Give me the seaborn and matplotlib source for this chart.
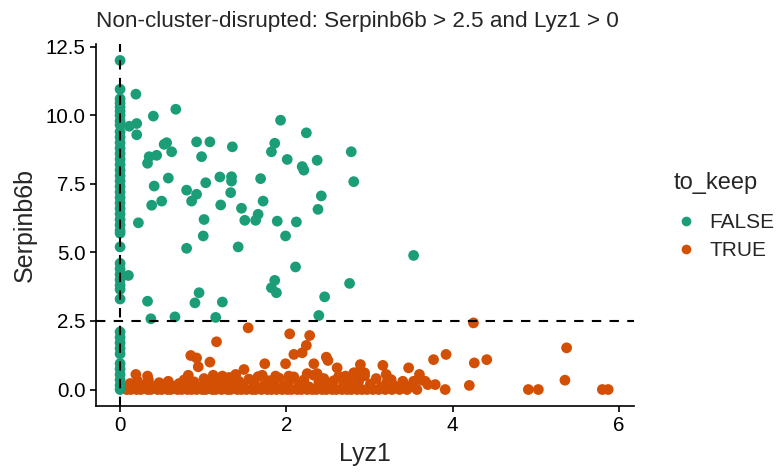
import matplotlib
matplotlib.use("Agg")
import matplotlib.pyplot as plt
import pandas as pd
import seaborn as sns

# ---- data -------------------------------------------------------------
# cells with Lyz1 == 0 (not kept)
false_zero_y = [12.0, 10.95, 10.6, 10.45, 10.3, 10.15, 10.0, 9.8, 9.65, 9.4,
                9.2, 9.0, 8.8, 8.6, 8.4, 8.2, 8.0, 7.8, 7.6, 7.4, 7.2, 7.0,
                6.8, 6.6, 6.4, 6.2, 6.0, 5.8, 5.7, 5.2, 4.6, 4.4, 4.2, 4.0,
                3.8, 3.65, 3.3, 2.1, 1.9, 1.7, 1.5, 1.3, 0.95, 0.75, 0.55,
                0.35, 0.15, 0.0]

# cells with Lyz1 > 0 and Serpinb6b > 2.5 (not kept)
false_x = [0.19, 0.40, 0.67, 0.11, 0.20, 0.20, 1.93, 2.24, 2.78, 2.81, 0.53,
           0.56, 0.92, 1.08, 1.35, 1.86, 1.82, 2.01, 2.37, 2.19, 2.21, 0.35,
           0.33, 0.44, 0.62, 0.98, 0.41, 0.58, 0.80, 0.92, 0.86, 1.03, 1.20,
           1.34, 1.34, 1.33, 1.69, 2.42, 0.38, 0.50, 1.21, 1.46, 1.72, 2.38,
           0.22, 1.50, 1.63, 1.66, 1.89, 2.12, 1.01, 1.00, 0.80, 1.42, 1.99,
           2.11, 0.10, 1.86, 1.82, 1.88, 2.76, 2.46, 0.95, 0.90, 1.23, 0.33,
           0.37, 0.66, 1.15, 2.39, 3.53]
false_y = [10.77, 9.97, 10.22, 9.60, 9.70, 9.29, 9.82, 9.36, 8.67, 7.58, 8.94,
           9.00, 9.03, 9.03, 8.85, 8.98, 8.67, 8.39, 8.36, 8.13, 8.00, 8.49,
           8.25, 8.54, 8.67, 8.49, 7.42, 7.71, 7.27, 7.12, 6.87, 7.54, 7.75,
           7.76, 7.60, 7.18, 7.69, 7.06, 6.72, 6.87, 6.73, 6.61, 6.87, 6.57,
           6.08, 6.17, 6.17, 6.39, 6.14, 6.11, 6.20, 5.60, 5.15, 5.20, 5.60,
           4.47, 4.16, 3.98, 3.71, 3.53, 3.87, 3.38, 3.53, 3.16, 3.19, 3.22,
           2.58, 2.65, 2.63, 2.70, 4.89]

# kept cells: Serpinb6b == 0
true_zero_x = [0.08, 0.13, 0.20, 0.25, 0.33, 0.37, 0.45, 0.50, 0.57, 0.61,
               0.69, 0.74, 0.81, 0.86, 0.92, 0.99, 1.03, 1.11, 1.15, 1.22,
               1.29, 1.33, 1.41, 1.46, 1.52, 1.59, 1.63, 1.70, 1.77, 1.82,
               1.88, 1.95, 2.01, 2.06, 2.13, 2.18, 2.25, 2.31, 2.36, 2.43,
               2.48, 2.55, 2.60, 2.67, 2.73, 2.78, 2.85, 2.91, 2.97, 3.04,
               3.11, 3.19, 3.27, 3.36, 3.45, 3.57, 3.91, 4.91, 5.03, 5.80,
               5.87]

# kept cells: Serpinb6b above zero
true_x = [0.12, 0.21, 0.27, 0.34, 0.40, 0.47, 0.53, 0.58, 0.65, 0.71, 0.77,
          0.83, 0.89, 0.95, 1.01, 1.07, 1.13, 1.18, 1.25, 1.31, 1.37, 1.43,
          1.48, 1.55, 1.61, 1.66, 1.73, 1.79, 1.85, 1.91, 1.97, 2.03, 2.09,
          2.15, 2.21, 2.27, 2.33, 2.39, 2.45, 2.51, 2.57, 2.63, 2.69, 2.75,
          2.81, 2.87, 2.94, 3.01, 3.08, 3.14, 3.21, 3.29, 3.40, 3.50, 3.62,
          3.70,
          1.16, 0.85, 0.92, 0.94, 1.08, 0.19, 0.33, 1.54, 2.04, 2.28, 2.24,
          2.09, 2.19, 2.48, 2.50, 1.74, 1.99, 2.33, 2.61, 2.89, 1.49, 1.39,
          4.25, 3.92, 3.77, 4.26, 4.41, 3.47, 3.16, 3.60, 3.79, 4.20, 5.37,
          5.35, 3.20, 3.26, 3.53, 3.67, 3.38, 2.84, 2.94, 0.82, 1.12, 1.23,
          1.71, 1.87, 2.03, 2.25, 2.37, 2.71, 2.81]
true_y = [0.22, 0.31, 0.14, 0.36, 0.11, 0.25, 0.18, 0.30, 0.12, 0.22, 0.35,
          0.15, 0.28, 0.10, 0.40, 0.20, 0.32, 0.12, 0.25, 0.44, 0.18, 0.30,
          0.10, 0.38, 0.22, 0.47, 0.15, 0.32, 0.20, 0.42, 0.12, 0.30, 0.46,
          0.18, 0.35, 0.10, 0.52, 0.25, 0.40, 0.15, 0.32, 0.48, 0.20, 0.38,
          0.12, 0.30, 0.50, 0.20, 0.40, 0.10, 0.28, 0.15, 0.30, 0.12, 0.35,
          0.18,
          1.74, 1.24, 1.15, 0.83, 1.00, 0.55, 0.49, 2.25, 2.03, 1.97, 1.61,
          1.28, 1.34, 1.18, 1.06, 0.94, 0.94, 0.94, 0.79, 0.91, 0.73, 0.55,
          2.43, 1.28, 1.09, 0.97, 1.09, 0.79, 0.88, 0.55, 0.18, 0.15, 1.52,
          0.34, 0.55, 0.36, 0.30, 0.30, 0.12, 0.61, 0.61, 0.52, 0.52, 0.49,
          0.52, 0.49, 0.49, 0.58, 0.58, 0.49, 0.61]

x_ticks = [0, 2, 4, 6]
y_ticks = [0.0, 2.5, 5.0, 7.5, 10.0, 12.5]
serpin_cut = 2.5
lyz_cut = 0

palette = {"FALSE": "#1B9E77", "TRUE": "#D34F04"}

# ---- assemble table ---------------------------------------------------
df = pd.concat([
    pd.DataFrame({"Lyz1": true_zero_x,
                  "Serpinb6b": [0.0] * len(true_zero_x), "to_keep": "TRUE"}),
    pd.DataFrame({"Lyz1": true_x, "Serpinb6b": true_y, "to_keep": "TRUE"}),
    pd.DataFrame({"Lyz1": false_x, "Serpinb6b": false_y, "to_keep": "FALSE"}),
    pd.DataFrame({"Lyz1": [0.0] * len(false_zero_y),
                  "Serpinb6b": false_zero_y, "to_keep": "FALSE"}),
], ignore_index=True)

# ---- figure ------------------------------------------------------------
sns.set_theme(style="ticks")
plt.rcParams["font.family"] = ["Liberation Sans", "DejaVu Sans"]

fig = plt.figure(figsize=(7.79, 4.76), dpi=100)
ax = fig.add_axes([0.1232, 0.1471, 0.6906, 0.7605])

sns.scatterplot(data=df, x="Lyz1", y="Serpinb6b", hue="to_keep",
                hue_order=["FALSE", "TRUE"], palette=palette,
                s=60, linewidth=0, alpha=1, ax=ax, zorder=2)

ax.axhline(serpin_cut, color="black", lw=1.5, ls=(0, (4.5, 4)), zorder=3)
ax.axvline(lyz_cut, color="black", lw=1.5, ls=(0, (4.5, 4)), zorder=3)

ax.set_xlim(-0.29, 6.18)
ax.set_ylim(-0.6, 12.6)
ax.set_xticks(x_ticks)
ax.set_xticklabels([str(t) for t in x_ticks])
ax.set_yticks(y_ticks)
ax.set_yticklabels([f"{t:.1f}" for t in y_ticks])

for side in ("top", "right"):
    ax.spines[side].set_visible(False)
for side in ("left", "bottom"):
    ax.spines[side].set_linewidth(1.2)
    ax.spines[side].set_color("black")
ax.tick_params(axis="both", length=4.5, width=1.2, color="black",
               labelsize=14.8, labelcolor="black", pad=3)

ax.set_xlabel("Lyz1", fontsize=18, labelpad=5)
ax.set_ylabel("Serpinb6b", fontsize=18, labelpad=6)
ax.set_title("Non-cluster-disrupted: Serpinb6b > 2.5 and Lyz1 > 0",
             fontsize=16.2, loc="left", pad=12)

sns.move_legend(ax, "center left", bbox_to_anchor=(1.038, 0.525),
                frameon=False, title="to_keep", fontsize=15,
                title_fontsize=17, markerscale=0.9, handlelength=1.2,
                handletextpad=0.55, labelspacing=0.45, alignment="left")
leg = ax.get_legend()
leg._legend_box.sep = 14

fig.savefig("out.png", dpi=100)
